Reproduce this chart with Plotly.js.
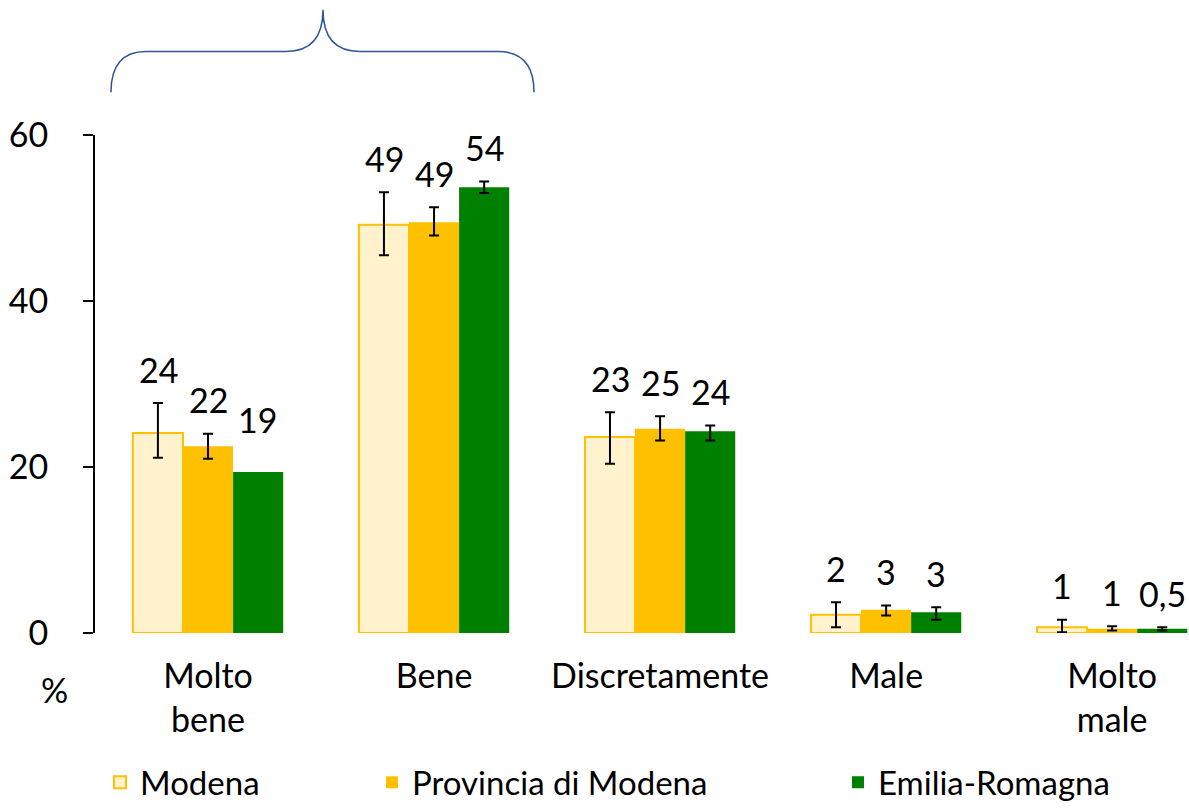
<!DOCTYPE html>
<html>
<head>
<meta charset="utf-8">
<script src="https://cdn.plot.ly/plotly-3.0.1.min.js"></script>
<style>
  html, body { margin: 0; padding: 0; background: #fff; }
  #chart { width: 1189px; height: 811px; }
</style>
</head>
<body>
<div id="chart"></div>
<script>
var categories = ["Molto<br>bene", "Bene", "Discretamente", "Male", "Molto<br>male"];

var modena = [24.1, 49.2, 23.6, 2.2, 0.7];
var modenaHigh = [27.7, 53.1, 26.6, 3.7, 1.6];
var modenaLow = [21.1, 45.5, 20.4, 0.7, 0.1];
var modenaLabels = ["24", "49", "23", "2", "1"];

var provincia = [22.5, 49.5, 24.6, 2.8, 0.5];
var provinciaHigh = [24.0, 51.3, 26.1, 3.3, 0.8];
var provinciaLow = [21.0, 47.9, 23.2, 2.1, 0.3];
var provinciaLabels = ["22", "49", "25", "3", "1"];

var emilia = [19.4, 53.7, 24.3, 2.5, 0.5];
var emiliaHigh = [null, 54.4, 25.0, 3.1, 0.7];
var emiliaLow = [null, 53.0, 23.2, 1.6, 0.3];
var emiliaLabels = ["19", "54", "24", "3", "0,5"];

var FONT = "Lato, 'Open Sans', sans-serif";
var SIZE = 34;

// NaN makes plotly skip the error bar for that point
function errs(vals, hi, lo) {
  return {
    type: "data",
    symmetric: false,
    array: vals.map(function (v, i) { return hi[i] == null ? NaN : hi[i] - v; }),
    arrayminus: vals.map(function (v, i) { return lo[i] == null ? NaN : v - lo[i]; }),
    color: "#000",
    thickness: 2,
    width: 5
  };
}

var trace1 = {
  x: categories, y: modena, type: "bar", name: "Modena", legend: "legend",
  marker: { color: "#FFF2CC", line: { color: "#FFC000", width: 2 } },
  error_y: errs(modena, modenaHigh, modenaLow)
};
var trace2 = {
  x: categories, y: provincia, type: "bar", name: "Provincia di Modena", legend: "legend2",
  marker: { color: "#FFC000", line: { color: "#FFC000", width: 0 } },
  error_y: errs(provincia, provinciaHigh, provinciaLow)
};
var trace3 = {
  x: categories, y: emilia, type: "bar", name: "Emilia-Romagna", legend: "legend3",
  marker: { color: "#008000", line: { color: "#008000", width: 0 } },
  error_y: errs(emilia, emiliaHigh, emiliaLow)
};

// value labels sit above the top of each error bar (or bar top when no error bar)
var annotations = [];
var series = [[modena, modenaHigh, modenaLabels, -1], [provincia, provinciaHigh, provinciaLabels, 0], [emilia, emiliaHigh, emiliaLabels, 1]];
series.forEach(function (s) {
  s[0].forEach(function (v, i) {
    var top = s[1][i] == null ? v : s[1][i];
    annotations.push({
      x: i + s[3] * 0.221, y: top, xref: "x", yref: "y",
      text: s[2][i], showarrow: false, yanchor: "middle", yshift: s[1][i] == null ? 52 : 34,
      font: { family: FONT, size: SIZE, color: "#000" }
    });
  });
});
annotations.push({
  x: -0.037, y: -0.114, xref: "paper", yref: "paper", text: "%", showarrow: false,
  xanchor: "center", yanchor: "middle", font: { family: FONT, size: SIZE, color: "#000" }
});

// curly brace over the first two groups (pixel coords -> paper)
function px(x) { return ((x - 95) / 1094).toFixed(4); }
function py(y) { return ((636 - y) / 501).toFixed(4); }
var brace = "M" + px(111) + "," + py(92) +
  " Q" + px(111) + "," + py(51) + " " + px(146) + "," + py(51) +
  " L" + px(286) + "," + py(51) +
  " Q" + px(323) + "," + py(51) + " " + px(323) + "," + py(9) +
  " Q" + px(323) + "," + py(51) + " " + px(360) + "," + py(51) +
  " L" + px(498) + "," + py(51) +
  " Q" + px(534) + "," + py(51) + " " + px(534) + "," + py(92);

var legendBase = {
  orientation: "h", yanchor: "middle", y: -0.3, xanchor: "left",
  font: { family: FONT, size: 33, color: "#000" }, bgcolor: "rgba(0,0,0,0)",
  itemwidth: 30, tracegroupgap: 0
};

var layout = {
  width: 1189, height: 811,
  margin: { l: 95, r: 0, t: 135, b: 175 },
  paper_bgcolor: "#fff", plot_bgcolor: "#fff",
  barmode: "group", bargap: 0.335, bargroupgap: 0,
  font: { family: FONT, size: SIZE, color: "#000" },
  showlegend: true,
  legend: Object.assign({}, legendBase, { x: (100 - 95) / 1094 }),
  legend2: Object.assign({}, legendBase, { x: (372 - 95) / 1094 }),
  legend3: Object.assign({}, legendBase, { x: (838 - 95) / 1094 }),
  xaxis: {
    range: [-0.5, 4.34], showline: false, showgrid: false, zeroline: false,
    ticks: "", ticklabelstandoff: 20, tickfont: { family: FONT, size: SIZE }
  },
  yaxis: {
    range: [0, 60], tickvals: [0, 20, 40, 60], showline: true, linecolor: "#000", linewidth: 2,
    ticks: "outside", ticklen: 10, tickwidth: 2, tickcolor: "#000",
    showgrid: false, zeroline: false, ticklabelstandoff: 28,
    tickfont: { family: FONT, size: SIZE }
  },
  annotations: annotations,
  shapes: [{
    type: "path", xref: "paper", yref: "paper", path: brace,
    line: { color: "#2F5597", width: 1.5 }
  }]
};

Plotly.newPlot("chart", [trace1, trace2, trace3], layout, { displayModeBar: false });
</script>
</body>
</html>
